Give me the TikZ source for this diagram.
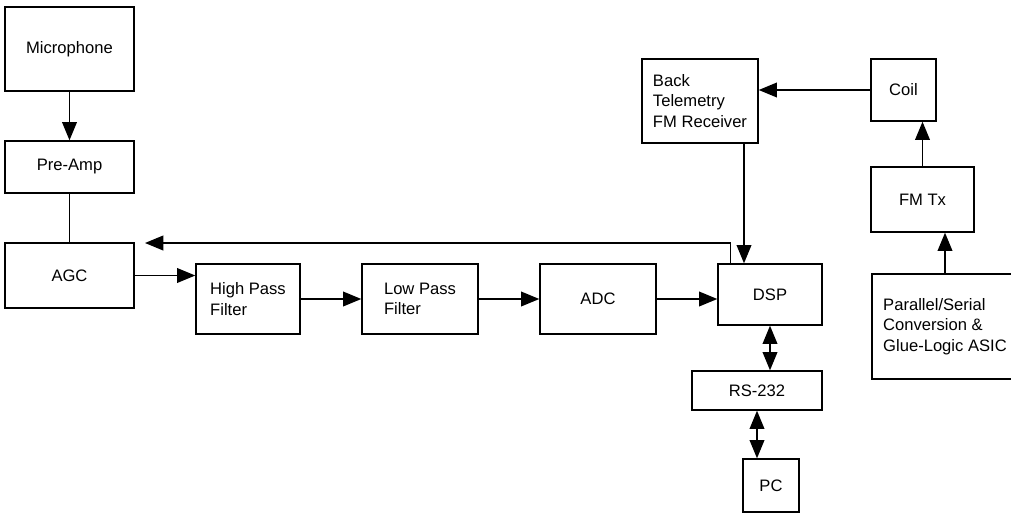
\documentclass[tikz,border=0pt]{standalone}
\usepackage{fontspec}
\setmainfont{Liberation Sans}
\usetikzlibrary{arrows.meta}

\begin{document}
\begin{tikzpicture}[x=0.025cm, y=-0.025cm,
  blk/.style 2 args={draw, line width=1pt, minimum width=#1*0.025cm, minimum height=#2*0.025cm,
    inner sep=0pt, align=left, font=\fontsize{11.8}{14.5}\selectfont},
  arr/.style={line width=1pt, -{Triangle[length=13pt,width=10.5pt]}},
  darr/.style={line width=1pt, {Triangle[length=13pt,width=10.5pt]}-{Triangle[length=13pt,width=10.5pt]}}]

  \useasboundingbox (0,0) rectangle (1011,513);

  % audio path
  \node[blk={129}{84}] (mic) at (69.5,49) {Microphone};
  \node[blk={129}{52}] (pre) at (69.5,167) {Pre-Amp};
  \node[blk={129}{65}] (agc) at (69.5,275.5) {AGC};
  \node[blk={104}{70}] (hpf) at (248,299) {High Pass\\Filter};
  \node[blk={116}{70}] (lpf) at (420,299) {Low Pass\\Filter};
  \node[blk={116}{70}] (adc) at (598,299) {ADC};
  \node[blk={104}{61}] (dsp) at (770,294.5) {DSP};

  % telemetry side
  \node[blk={116}{84}] (btr) at (700,101) {Back\\Telemetry\\FM Receiver};
  \node[blk={65}{62}] (coil) at (903.5,90) {Coil};
  \node[blk={103}{65}] (fmtx) at (922.5,199.5) {FM Tx};
  \node[blk={146}{105}] (asic) at (945,326.5) {Parallel/Serial\\Conversion \&\\Glue-Logic ASIC};

  % host link
  \node[blk={130}{39}] (rs) at (757,390.5) {RS-232};
  \node[blk={56}{53}] (pc) at (771,485.5) {PC};

  \draw[arr] (mic.south) -- (pre.north);
  \draw[line width=1pt] (pre.south) -- (agc.north);
  \draw[arr] (agc.east) -- (agc.east -| hpf.west);
  \draw[arr] (hpf.east) -- (lpf.west);
  \draw[arr] (lpf.east) -- (adc.west);
  \draw[arr] (adc.east) -- (adc.east -| dsp.west);

  % feedback to the AGC
  \coordinate (agcin) at (145,243);
  \draw[arr] ([xshift=13*0.025cm]dsp.north west) |- (agcin);

  \draw[arr] ([xshift=44*0.025cm]btr.south) -- ([xshift=44*0.025cm]btr.south |- dsp.north);
  \draw[arr] (coil.west) -- (coil.west -| btr.east);
  \draw[arr] (fmtx.north) -- (fmtx.north |- coil.south);
  \draw[arr] (asic.north) -- (asic.north |- fmtx.south);

  \draw[darr] (dsp.south) -- (dsp.south |- rs.north);
  \draw[darr] (rs.south) -- (rs.south |- pc.north);

\end{tikzpicture}
\end{document}
